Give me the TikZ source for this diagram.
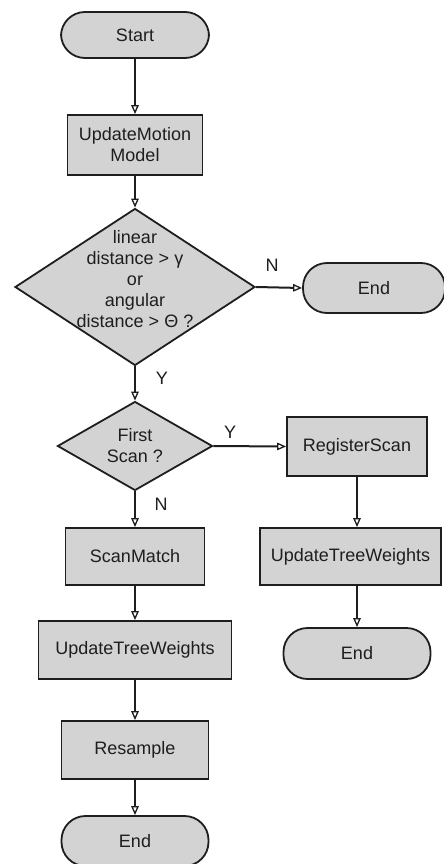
\documentclass[tikz,border=0pt]{standalone}
\usepackage{fontspec}
\setmainfont{Liberation Sans}
\usetikzlibrary{shapes.geometric,arrows.meta}
\definecolor{boxgrey}{HTML}{D3D3D3}
\definecolor{ink}{HTML}{1E1E1E}
\tikzset{
  base/.style={draw=ink, line width=1.8pt, fill=boxgrey, inner sep=0pt,
    text=ink, font=\fontsize{18}{21}\selectfont, align=center},
  procbox/.style={base, rectangle},
  termbox/.style={base, rectangle, rounded corners=24pt},
  decbox/.style={base, diamond, aspect=1},
  txt/.style={inner sep=0pt, text=ink, font=\fontsize{18}{21}\selectfont, align=center},
  flow/.style={draw=ink, line width=2pt,
    -{Triangle[open, length=9pt, width=7.5pt, line width=1.3pt]}},
  lab/.style={inner sep=0pt, text=ink, font=\fontsize{18}{21}\selectfont}
}
\begin{document}
\begin{tikzpicture}[x=1pt, y=-1pt]
  \clip (0,0) rectangle (444,864);
  \fill[white] (0,0) rectangle (444,864);

  % main column
  \node[termbox, minimum width=148pt, minimum height=46pt] (start) at (135,35) {Start};
  \node[procbox, minimum width=135pt, minimum height=60pt] (motion) at (135,145) {UpdateMotion\\Model};
  \node[decbox, minimum width=240pt, minimum height=157pt] (q1) at (135,287) {};
  \node[txt] (q1t) at (135,279) {linear\\distance > γ\\or\\angular\\distance > Θ ?};
  \node[termbox, minimum width=142pt, minimum height=50pt] (endA) at (374,288) {End};

  \node[decbox, minimum width=155pt, minimum height=89pt] (q2) at (135,446) {};
  \node[txt] (q2t) at (135,446) {First\\Scan ?};
  \node[procbox, minimum width=140pt, minimum height=59pt] (reg) at (357,446.5) {RegisterScan};

  \node[procbox, minimum width=139pt, minimum height=57pt] (match) at (135,556.5) {ScanMatch};
  \node[procbox, minimum width=181pt, minimum height=57pt] (treeR) at (350.5,556.5) {UpdateTreeWeights};
  \node[termbox, minimum width=147pt, minimum height=51pt] (endB) at (357,653.5) {End};

  \node[procbox, minimum width=193pt, minimum height=58pt] (treeL) at (135,650) {UpdateTreeWeights};
  \node[procbox, minimum width=147pt, minimum height=58pt] (resample) at (135,750) {Resample};
  \node[termbox, minimum width=147pt, minimum height=50pt] (endC) at (135,841) {End};

  % connectors
  \draw[flow] (start) -- (motion);
  \draw[flow] (motion) -- (q1);
  \draw[flow] (q1.east) -- (endA.west);
  \draw[flow] (q1.south) -- (q2.north);
  \draw[flow] (q2.east) -- (reg.west);
  \draw[flow] (q2.south) -- (match.north);
  \draw[flow] (reg.south) -- (reg.south |- treeR.north);
  \draw[flow] (treeR.south -| endB.north) -- (endB.north);
  \draw[flow] (match) -- (treeL);
  \draw[flow] (treeL) -- (resample);
  \draw[flow] (resample) -- (endC);

  % branch labels
  \node[lab] (nA) at (272,265) {N};
  \node[lab] (yA) at (162,378) {Y};
  \node[lab] (yB) at (230,432) {Y};
  \node[lab] (nB) at (161,504) {N};
\end{tikzpicture}
\end{document}
